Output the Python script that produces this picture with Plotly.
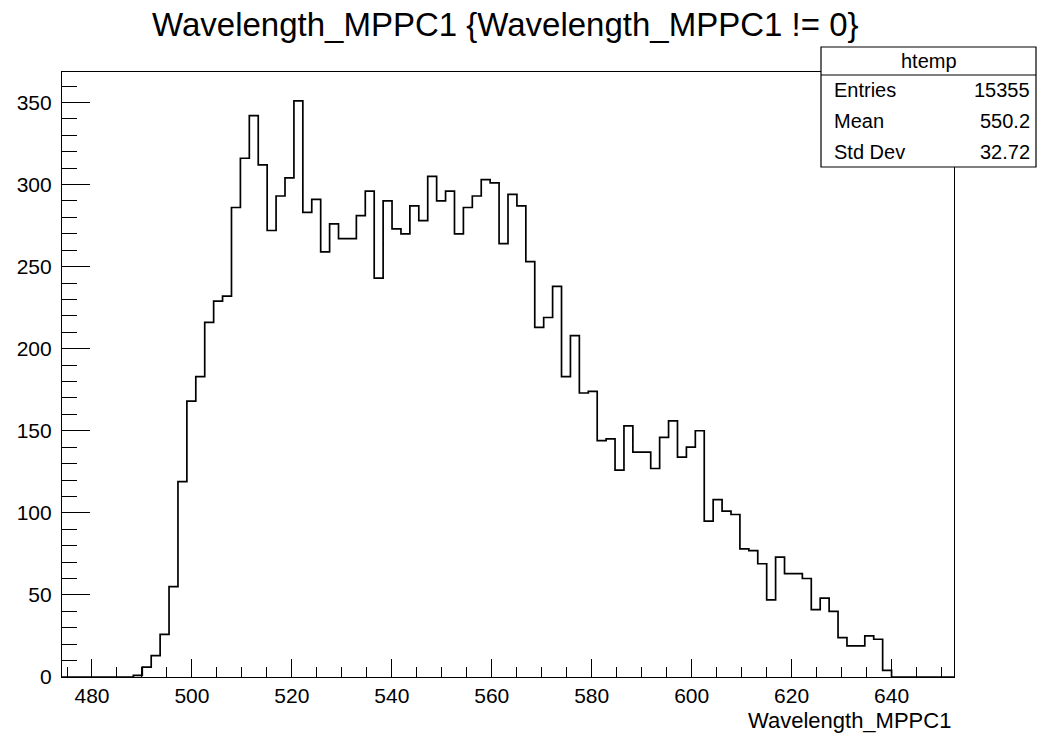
import plotly.graph_objects as go

# ---- data ----
x_min = 474.0
x_max = 652.5
n_bins = 100
# bin contents for bins 8..92 (all other bins are empty)
first_bin = 8
counts = [1, 6, 13, 26, 55, 119, 168,
          183, 216, 229, 232, 286, 316, 342,
          312, 272, 293, 304, 351, 283, 291,
          259, 276, 267, 267, 281, 296, 243,
          290, 273, 270, 287, 278, 305, 290,
          296, 270, 286, 293, 303, 301, 264,
          294, 287, 253, 213, 219, 238, 183,
          208, 173, 174, 144, 145, 126, 153,
          137, 137, 127, 146, 156, 134, 140,
          150, 95, 108, 101, 99, 78, 77,
          69, 47, 73, 63, 63, 60, 41,
          48, 40, 24, 19, 19, 25, 23, 4]
x_ticks = [480, 500, 520, 540, 560, 580, 600, 620, 640]
y_ticks = [0, 50, 100, 150, 200, 250, 300, 350]
title_text = "Wavelength_MPPC1 {Wavelength_MPPC1 != 0}"
x_title = "Wavelength_MPPC1"
stats_name = "htemp"
stats_rows = [("Entries", "15355"), ("Mean", "550.2"), ("Std Dev", "32.72")]

# ---- build histogram step outline ----
bw = (x_max - x_min) / n_bins
contents = [0] * n_bins
for i, c in enumerate(counts):
    contents[first_bin + i] = c
edges = [x_min + k * bw for k in range(n_bins + 1)]
ys = contents + [contents[-1]]
y_max = max(contents) * 1.05

W, H = 1038, 735
L, R, T, B = 62, 84, 72, 58
PW, PH = W - L - R, H - T - B


def px(xp):
    return (xp - L) / PW


def py(yp):
    return (H - B - yp) / PH


FONT = "Liberation Sans, Arial, Helvetica, sans-serif"

fig = go.Figure()
fig.add_trace(go.Scatter(x=edges, y=ys, mode="lines",
                         line=dict(color="black", width=1.7, shape="hv"),
                         hoverinfo="skip", showlegend=False))

fig.update_layout(
    width=W, height=H,
    margin=dict(l=L, r=R, t=T, b=B, pad=0),
    paper_bgcolor="white", plot_bgcolor="white",
    font=dict(family=FONT, size=21, color="black"),
    showlegend=False,
)
fig.update_xaxes(range=[x_min, x_max], tickvals=x_ticks,
                 ticks="inside", ticklen=18, tickwidth=1, tickcolor="black",
                 minor=dict(dtick=5, tick0=480, ticks="inside", ticklen=10,
                            tickwidth=1, tickcolor="black"),
                 showline=True, linecolor="black", linewidth=1.2, mirror=True,
                 showgrid=False, zeroline=False,
                 tickfont=dict(family=FONT, size=21))
fig.update_yaxes(range=[0, y_max], tickvals=y_ticks,
                 ticks="inside", ticklen=28, tickwidth=1, tickcolor="black",
                 minor=dict(dtick=10, tick0=0, ticks="inside", ticklen=15,
                            tickwidth=1, tickcolor="black"),
                 showline=True, linecolor="black", linewidth=1.2, mirror=True,
                 showgrid=False, zeroline=False,
                 ticklabelstandoff=5,
                 tickfont=dict(family=FONT, size=21))

# title
fig.add_annotation(text=title_text, x=px(505), y=py(25), xref="paper", yref="paper",
                   xanchor="center", yanchor="middle", showarrow=False,
                   font=dict(family=FONT, size=33, color="black"))
# x axis title
fig.add_annotation(text=x_title, x=px(953), y=py(720), xref="paper", yref="paper",
                   xanchor="right", yanchor="middle", showarrow=False,
                   font=dict(family=FONT, size=22, color="black"))

# stats box
bx0, bx1 = 821, 1036
by_top, by_head, by_bot = 47, 75, 167
fig.add_shape(type="rect", xref="paper", yref="paper",
              x0=px(bx0), x1=px(bx1), y0=py(by_bot), y1=py(by_top),
              line=dict(color="black", width=1.2), fillcolor="white", layer="above")
fig.add_shape(type="line", xref="paper", yref="paper",
              x0=px(bx0), x1=px(bx1), y0=py(by_head), y1=py(by_head),
              line=dict(color="black", width=1.2), layer="above")
fig.add_annotation(text=stats_name, x=px((bx0 + bx1) / 2), y=py((by_top + by_head) / 2),
                   xref="paper", yref="paper", xanchor="center", yanchor="middle",
                   showarrow=False, font=dict(family=FONT, size=20, color="black"))
row_h = (by_bot - by_head) / len(stats_rows)
for i, (lab, val) in enumerate(stats_rows):
    yc = by_head + row_h * (i + 0.5)
    fig.add_annotation(text=lab, x=px(832), y=py(yc), xref="paper", yref="paper",
                       xanchor="left", yanchor="middle", showarrow=False,
                       font=dict(family=FONT, size=20, color="black"))
    fig.add_annotation(text=val, x=px(1032), y=py(yc), xref="paper", yref="paper",
                       xanchor="right", yanchor="middle", showarrow=False,
                       font=dict(family=FONT, size=20, color="black"))

fig.write_html("out.html",
               config={"displayModeBar": False},
               post_script="document.body.style.margin='0';"
                           "document.body.style.overflow='hidden';")
